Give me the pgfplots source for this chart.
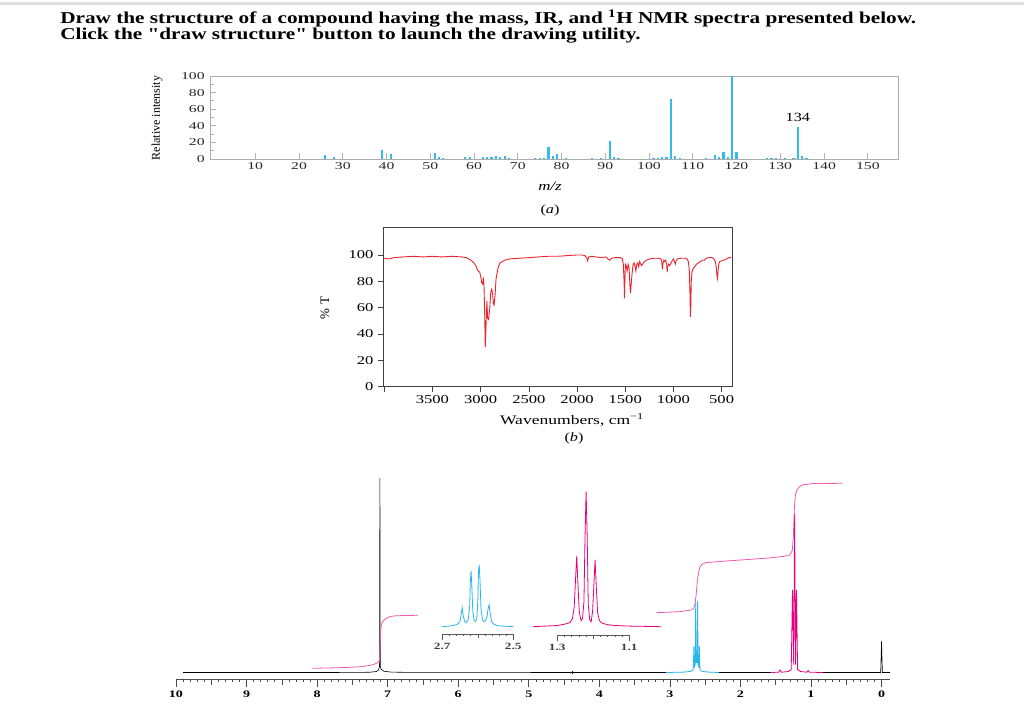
\documentclass[border=0pt]{standalone}
\usepackage{pgfplots}
\pgfplotsset{compat=1.18}
\usepackage{fontspec}
\setmainfont{Liberation Serif}
\definecolor{msblue}{RGB}{51,187,238}
\definecolor{nmrblue}{RGB}{41,182,236}
\definecolor{nmrmag}{RGB}{230,0,126}
\definecolor{intpink}{RGB}{240,90,170}
\definecolor{irred}{RGB}{235,35,45}
\begin{document}
\begin{tikzpicture}[x=1pt,y=1pt]
\path[use as bounding box] (0,0) rectangle (1024,712);
\fill[gray!25] (0,707) rectangle (1024,710);
\node[anchor=base west, font=\fontsize{16.6}{20}\selectfont\bfseries, inner sep=0, xscale=1.28] at (60,688.7) {Draw the structure of a compound having the mass, IR, and \textsuperscript{1}H NMR spectra presented below.};
\node[anchor=base west, font=\fontsize{16.6}{20}\selectfont\bfseries, inner sep=0, xscale=1.28] at (60,672) {Click the \textquotedbl draw structure\textquotedbl\ button to launch the drawing utility.};

% ---------------- Mass spectrum ----------------
\begin{axis}[
  at={(210pt,553pt)}, anchor=south west, scale only axis,
  width=688pt, height=83pt,
  xmin=-0.34, xmax=156.9, ymin=0, ymax=100,
  axis line style={gray!65, line width=0.6pt},
  xtick={10,20,...,150}, ytick={0,20,...,100}, minor ytick={10,30,...,90},
  tick align=inside, xtick pos=bottom, ytick pos=left,
  major tick length=6pt, minor tick length=4pt,
  tick style={gray!60, line width=0.8pt},
  tick label style={font=\fontsize{10.5}{12}\selectfont, text=black!85, xscale=1.5},
  /pgf/number format/assume math mode=true,
  clip=false,
]
\addplot[ycomb, msblue, line width=2.2pt] coordinates {
(26,5) (28,2.4) (39,10.8) (41,5.6) (51,6.9) (52,2) (53,1.5)
(58,2) (59,2) (62,2) (63,3) (64,2) (65,4) (66,2) (67,4) (68,1)
(74,1) (75,1) (76,1.2) (77,14) (78,4) (79,5.7) (81,1) (87,1) (89,1)
(91,21.7) (92,2) (93,1) (101,1) (102,1) (103,3) (104,3) (105,72) (106,4) (107,1)
(113,1) (115,5) (116,2) (117,8) (118,2) (119,100) (120,8)
(127,1) (128,1) (129,1) (131,1) (133,1) (134,39) (135,4) (136,1)
};
\node[font=\fontsize{12.5}{13}\selectfont, xscale=1.3] at (axis cs:134,49.5) {134};
\end{axis}
\node[rotate=90, font=\fontsize{12}{13}\selectfont] at (157,594) {Relative intensity};
\node[font=\fontsize{13}{14}\selectfont\itshape, xscale=1.3] at (550,526) {m/z};
\node[font=\fontsize{12.5}{14}\selectfont, xscale=1.3] at (550,502) {(\textit{a})};

% ---------------- IR spectrum ----------------
\begin{axis}[
  at={(383.3pt,325.3pt)}, anchor=south west, scale only axis,
  width=349.4pt, height=159.4pt,
  xmin=385, xmax=4010, x dir=reverse, ymin=0, ymax=121,
  axis line style={black!75, line width=0.6pt},
  xtick={500,1000,...,3500}, ytick={0,20,...,100},
  extra x ticks={4000}, extra x tick labels={},
  tick align=outside, xtick pos=bottom, ytick pos=left,
  major tick length=5pt,
  tick style={black!75, line width=0.6pt},
  tick label style={font=\fontsize{12}{13}\selectfont, xscale=1.38},
  /pgf/number format/assume math mode=true,
  /pgf/number format/1000 sep={},
]
\addplot[irred, line width=0.9pt] coordinates {
(4000,97.5)(3950,97)(3900,98)(3800,98.5)(3700,99)(3600,98.5)(3500,99)(3400,98.5)(3300,99)(3200,98.5)
(3150,98)(3100,96)(3070,94)(3050,92)(3030,88)(3010,87)(3000,84)(2990,79)(2980,78)(2972,83)(2965,76)
(2958,55)(2952,30)(2945,45)(2935,65)(2928,52)(2918,51)(2905,60)(2895,72)(2885,74)(2875,70)(2868,63)
(2860,62)(2850,70)(2840,82)(2820,90)(2800,94)(2750,96)(2700,97)(2600,97.5)(2500,98)(2400,98.5)
(2300,99)(2200,99)(2100,99.5)(2000,100)(1950,100)(1920,99.5)(1900,98)(1890,95.5)(1880,98.5)(1850,99)
(1800,98.5)(1750,98)(1700,98.5)(1680,97)(1660,96)(1640,97.5)(1600,98)(1550,98)(1530,97)(1520,93)
(1512,80)(1508,67)(1504,80)(1498,93)(1490,92)(1480,88)(1470,93)(1460,90)(1450,75)(1445,71)(1440,76)
(1430,85)(1420,92)(1410,94)(1400,92)(1390,88)(1380,93)(1370,94)(1360,91)(1350,95)(1340,93)(1330,92)
(1310,94)(1300,95)(1280,96)(1250,97)(1200,97.5)(1160,97.5)(1130,97)(1120,94)(1115,89)(1110,93)
(1100,96)(1090,95)(1080,96)(1070,93)(1065,87)(1060,91)(1050,93)(1040,92)(1030,93)(1010,96)(1000,97)
(990,95)(980,93)(970,96)(960,97)(920,97.5)(880,97.5)(860,97)(845,95)(835,88)(828,70)(824,53)(820,60)
(815,80)(808,87)(800,89)(780,91)(760,93)(740,94)(720,95)(700,96)(680,96)(660,97.5)(630,98)(600,98)
(580,97)(565,95)(555,90)(548,84)(542,82)(538,87)(530,93)(520,95)(500,95.5)(480,96)(460,96.5)
(440,97.5)(420,98)(400,98)
};
\end{axis}
\node[rotate=90, font=\fontsize{13}{14}\selectfont] at (325,404) {\% T};
\node[font=\fontsize{13}{14}\selectfont, xscale=1.35] at (572,292) {Wavenumbers, cm\textsuperscript{−1}};
\node[font=\fontsize{12.5}{14}\selectfont, xscale=1.3] at (574,274) {(\textit{b})};

% ---------------- NMR spectrum ----------------
\begin{axis}[
  at={(176pt,32.7pt)}, anchor=south west, scale only axis,
  width=714pt, height=206.8pt,
  xmin=-0.12, xmax=10, x dir=reverse, ymin=-6.8, ymax=200,
  axis x line*=bottom, hide y axis,
  axis line style={black!70, line width=0.6pt},
  xtick={0,1,...,10}, minor x tick num=9,
  extra x ticks={0.5,1.5,...,9.5}, extra x tick labels={},
  extra x tick style={major tick length=5.5pt},
  tick align=outside,
  major tick length=8pt, minor tick length=2.5pt,
  tick style={black!70, line width=0.6pt},
  tick label style={font=\fontsize{10}{11}\selectfont\bfseries, xscale=1.4},
  /pgf/number format/assume math mode=true,
  clip=false,
]
% spectrum
\addplot[black, line width=0.6pt] coordinates {
(9.9,0)(8,0)(7.4,0.1)(7.25,0.3)(7.16,1)(7.13,2.5)(7.115,6)(7.11,194.5)(7.105,6)(7.09,3)(7.05,1.2)(6.95,0.4)(6.7,0.1)(3.05,0)};
\addplot[nmrblue, line width=0.8pt] coordinates {
(3.05,0)(2.80,0.4)(2.70,1.2)(2.668,3)(2.660,26)(2.652,6)(2.640,8)(2.634,71)(2.627,10)(2.613,10)(2.607,71)(2.600,8)(2.590,6)(2.582,26)(2.574,3)(2.55,1.2)(2.45,0.4)(2.30,0)};
\addplot[black, line width=0.6pt] coordinates {(2.30,0)(1.56,0)};
\addplot[nmrmag, line width=0.8pt] coordinates {
(1.56,0)(1.46,0.3)(1.44,2.5)(1.42,0.3)(1.32,1)(1.28,3)(1.262,82.5)(1.245,8)(1.232,159)(1.219,8)(1.205,82.5)(1.19,3)(1.15,1)(1.06,0.3)(1.04,2)(1.02,0.3)(0.83,0)};
\addplot[black, line width=0.6pt] coordinates {(0.83,0)(0.012,0)(0,31)(-0.012,0)(-0.12,0)};
\addplot[black, only marks, mark=*, mark size=1pt] coordinates {(4.38,0)};
% integrals
\addplot[intpink, line width=0.8pt, smooth] coordinates {
(8.07,4.2)(7.7,4.8)(7.39,5.8)(7.2,8)(7.13,10.8)(7.115,14)(7.105,30)(7.095,45)(7.08,49.5)(7.04,53.2)(6.98,55.5)(6.92,56.5)(6.75,57)(6.57,57.2)};
\addplot[intpink, line width=0.8pt] coordinates {
(3.19,59.8)(2.86,60.8)(2.70,62.5)(2.665,64)(2.645,68)(2.63,76)(2.61,92)(2.59,101)(2.575,105.5)(2.54,108.5)(2.48,110)(2.2,111.5)(1.9,113)(1.6,114.5)(1.40,116)(1.30,117.5)(1.265,122)(1.25,136)(1.235,165)(1.22,178)(1.195,183)(1.15,186.5)(1.11,187.8)(0.97,189)(0.55,189.2)};
\end{axis}

% ---------------- Inset: quartet ----------------
\begin{axis}[
  at={(442.3pt,78pt)}, anchor=south west, scale only axis,
  width=71pt, height=69pt,
  xmin=2.5, xmax=2.7, x dir=reverse, ymin=-7.3, ymax=61.7,
  axis x line*=bottom, hide y axis,
  axis line style={black!65, line width=0.6pt},
  xtick={2.5,2.7}, xticklabels={2.5,2.7},
  minor xtick={2.52,2.54,2.56,2.58,2.62,2.64,2.66,2.68},
  extra x ticks={2.6}, extra x tick labels={}, extra x tick style={major tick length=4pt},
  tick align=outside, major tick length=6pt, minor tick length=2pt,
  tick style={black!65, line width=0.6pt},
  tick label style={font=\fontsize{9.5}{10}\selectfont\bfseries, text=black!75, xscale=1.4},
  clip=false,
]
\addplot[nmrblue, line width=0.8pt] coordinates {
(2.700,0)(2.690,0.3)(2.675,0.8)(2.665,1.5)(2.655,3)(2.650,6)(2.647,12)(2.644,19)(2.641,11)(2.637,5)(2.632,4)(2.627,7)(2.623,20)(2.621,45)(2.619,56)(2.617,42)(2.614,15)(2.610,6)(2.607,5)(2.603,8)(2.600,25)(2.598,55)(2.596,62)(2.594,48)(2.591,18)(2.587,7)(2.583,5)(2.578,6)(2.574,10)(2.571,18)(2.568,22)(2.565,13)(2.561,5)(2.555,2.5)(2.545,1.2)(2.530,0.6)(2.515,0.3)(2.500,0)};
\end{axis}

% ---------------- Inset: triplet ----------------
\begin{axis}[
  at={(557.3pt,77pt)}, anchor=south west, scale only axis,
  width=72pt, height=143.3pt,
  xmin=1.1, xmax=1.3, x dir=reverse, ymin=-8.3, ymax=135,
  axis x line*=bottom, hide y axis,
  axis line style={black!65, line width=0.6pt},
  xtick={1.1,1.3}, xticklabels={1.1,1.3},
  minor xtick={1.12,1.14,1.16,1.18,1.22,1.24,1.26,1.28},
  extra x ticks={1.2}, extra x tick labels={}, extra x tick style={major tick length=4pt},
  tick align=outside, major tick length=6pt, minor tick length=2pt,
  tick style={black!65, line width=0.6pt},
  tick label style={font=\fontsize{9.5}{10}\selectfont\bfseries, text=black!75, xscale=1.4},
  clip=false,
]
\addplot[nmrmag, line width=0.8pt] coordinates {
(1.368,0)(1.34,0.5)(1.30,1.2)(1.28,2.5)(1.265,4)(1.258,8)(1.253,20)(1.249,50)(1.246,70.7)(1.243,45)(1.239,15)(1.234,6)(1.230,8)(1.226,25)(1.223,90)(1.220,135)(1.217,90)(1.214,22)(1.210,7)(1.206,5)(1.202,15)(1.198,45)(1.195,66.7)(1.192,42)(1.188,14)(1.183,6)(1.175,3.5)(1.16,2)(1.14,1.2)(1.10,0.6)(1.05,0.3)(1.012,0)};
\end{axis}
\end{tikzpicture}
\end{document}
